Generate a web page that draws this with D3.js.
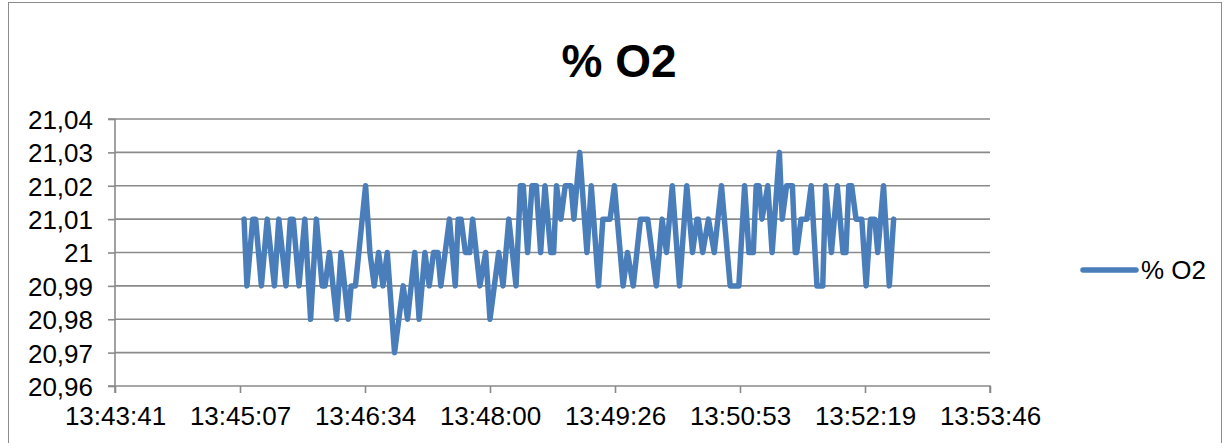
<!DOCTYPE html>
<html>
<head>
<meta charset="utf-8">
<script src="https://cdn.jsdelivr.net/npm/d3@7"></script>
<style>
  html, body { margin: 0; padding: 0; background: #fff; }
  svg text { font-family: "Liberation Sans", Arial, sans-serif; fill: #000; }
</style>
</head>
<body>
<svg id="chart" width="1230" height="443"></svg>
<script>
const title = "% O2";
const seriesName = "% O2";
const times = [
"13:45:10","13:45:12","13:45:16","13:45:18","13:45:22","13:45:26","13:45:31","13:45:34","13:45:39","13:45:42",
"13:45:44","13:45:48","13:45:52","13:45:56","13:46:00","13:46:04","13:46:06","13:46:09","13:46:14","13:46:17",
"13:46:22","13:46:24","13:46:27","13:46:34","13:46:37","13:46:40","13:46:43","13:46:46","13:46:49","13:46:54",
"13:46:57","13:47:00","13:47:03","13:47:08","13:47:11","13:47:15","13:47:18","13:47:21","13:47:24","13:47:26",
"13:47:29","13:47:32","13:47:36","13:47:38","13:47:40","13:47:43","13:47:46","13:47:48","13:47:53","13:47:57",
"13:48:00","13:48:06","13:48:09","13:48:13","13:48:18","13:48:21","13:48:23","13:48:26","13:48:29","13:48:32",
"13:48:35","13:48:38","13:48:42","13:48:44","13:48:46","13:48:49","13:48:52","13:48:56","13:48:58","13:49:02",
"13:49:07","13:49:10","13:49:15","13:49:18","13:49:23","13:49:26","13:49:32","13:49:35","13:49:39","13:49:44",
"13:49:49","13:49:55","13:49:59","13:50:02","13:50:06","13:50:11","13:50:16","13:50:20","13:50:23","13:50:24",
"13:50:27","13:50:31","13:50:35","13:50:40","13:50:46","13:50:52","13:50:56","13:50:59","13:51:02","13:51:04",
"13:51:06","13:51:08","13:51:12","13:51:15","13:51:20","13:51:22","13:51:25","13:51:29","13:51:31","13:51:32",
"13:51:35","13:51:39","13:51:42","13:51:46","13:51:50","13:51:52","13:51:56","13:52:00","13:52:04","13:52:06",
"13:52:08","13:52:10","13:52:13","13:52:17","13:52:20","13:52:23","13:52:26","13:52:28","13:52:32","13:52:36",
"13:52:39"];
const o2 = [
21.01,20.99,21.01,21.01,20.99,21.01,20.99,21.01,20.99,21.01,
21.01,20.99,21.01,20.98,21.01,20.99,20.99,21.00,20.98,21.00,
20.98,20.99,20.99,21.02,21.00,20.99,21.00,20.99,21.00,20.97,
20.98,20.99,20.98,21.00,20.98,21.00,20.99,21.00,21.00,20.99,
21.00,21.01,20.99,21.01,21.01,21.00,21.00,21.01,20.99,21.00,
20.98,21.00,20.99,21.01,20.99,21.02,21.02,21.00,21.02,21.02,
21.00,21.02,21.00,21.00,21.02,21.01,21.02,21.02,21.01,21.03,
21.00,21.02,20.99,21.01,21.01,21.02,20.99,21.00,20.99,21.01,
21.01,20.99,21.01,21.00,21.02,20.99,21.02,21.00,21.01,21.01,
21.00,21.01,21.00,21.02,20.99,20.99,21.02,21.00,21.00,21.02,
21.02,21.01,21.02,21.00,21.03,21.01,21.02,21.02,21.00,21.00,
21.01,21.01,21.02,20.99,20.99,21.02,21.00,21.02,21.00,21.00,
21.02,21.02,21.01,21.01,20.99,21.01,21.01,21.00,21.02,20.99,
21.01];
const xTickLabels = ["13:43:41","13:45:07","13:46:34","13:48:00","13:49:26","13:50:53","13:52:19","13:53:46"];
const yTickValues = [20.96,20.97,20.98,20.99,21.00,21.01,21.02,21.03,21.04];
const yTickLabels = ["20,96","20,97","20,98","20,99","21","21,01","21,02","21,03","21,04"];

const toSec = s => { const p = s.split(":").map(Number); return p[0]*3600 + p[1]*60 + p[2]; };
const data = times.map((t, i) => ({ t: toSec(t), v: o2[i] }));

// Axis runs over 0.001-day steps (86.4 s)
const day = 86400, step = 0.001 * day;
const xTickVals = xTickLabels.map((_, i) => (572 + i) * step);

const svg = d3.select("#chart");
const L = 115, R = 990, T = 119, B = 386;
const x = d3.scaleLinear().domain([xTickVals[0], xTickVals[xTickVals.length - 1]]).range([L, R]);
const y = d3.scaleLinear().domain([20.96, 21.04]).range([B, T]);

// outer chart border
svg.append("rect").attr("x", 8.5).attr("y", 2.5).attr("width", 1213).attr("height", 450)
  .attr("fill", "#fff").attr("stroke", "#8c8c8c").attr("stroke-width", 1);

// gridlines
svg.append("g").selectAll("line").data(yTickValues.slice(1)).join("line")
  .attr("x1", L).attr("x2", R).attr("y1", d => y(d)).attr("y2", d => y(d))
  .attr("stroke", "#8a8a8a").attr("stroke-width", 1.6);

// y axis
const yAxis = d3.axisLeft(y).tickValues(yTickValues).tickSize(7).tickPadding(15)
  .tickFormat((d, i) => yTickLabels[i]);
const gy = svg.append("g").attr("transform", `translate(${L},0)`).call(yAxis);
gy.select(".domain").attr("stroke", "#8a8a8a").attr("stroke-width", 1.6).attr("d", `M-7,${T}H0V${B}H-7`);
gy.selectAll(".tick line").attr("stroke", "#8a8a8a").attr("stroke-width", 1.6);
gy.selectAll("text").style("font-size", "26px").attr("dy", "0.36em").attr("fill", "#000");

// x axis
const xAxis = d3.axisBottom(x).tickValues(xTickVals).tickSize(7).tickPadding(14)
  .tickFormat((d, i) => xTickLabels[i]);
const gx = svg.append("g").attr("transform", `translate(0,${B})`).call(xAxis);
gx.select(".domain").attr("stroke", "#8a8a8a").attr("stroke-width", 1.6).attr("d", `M${L},7V0H${R}V7`);
gx.selectAll(".tick line").attr("stroke", "#8a8a8a").attr("stroke-width", 1.6);
gx.selectAll("text").style("font-size", "26px").attr("dy", "0.71em").attr("fill", "#000");
svg.selectAll(".tick text").style("font-family", "'Liberation Sans', Arial, sans-serif");

// series line
const line = d3.line().x(d => x(d.t)).y(d => y(d.v));
svg.append("path").datum(data).attr("d", line)
  .attr("fill", "none").attr("stroke", "#4a7ebb").attr("stroke-width", 5.5)
  .attr("stroke-linejoin", "round").attr("stroke-linecap", "round");

// title
svg.append("text").attr("x", 619).attr("y", 77).attr("text-anchor", "middle")
  .style("font-size", "46px").style("font-weight", "bold").text(title);

// legend
svg.append("line").attr("x1", 1083).attr("x2", 1136).attr("y1", 270).attr("y2", 270)
  .attr("stroke", "#4a7ebb").attr("stroke-width", 5.5).attr("stroke-linecap", "round");
svg.append("text").attr("x", 1141).attr("y", 279).style("font-size", "26px").text(seriesName);
</script>
</body>
</html>
